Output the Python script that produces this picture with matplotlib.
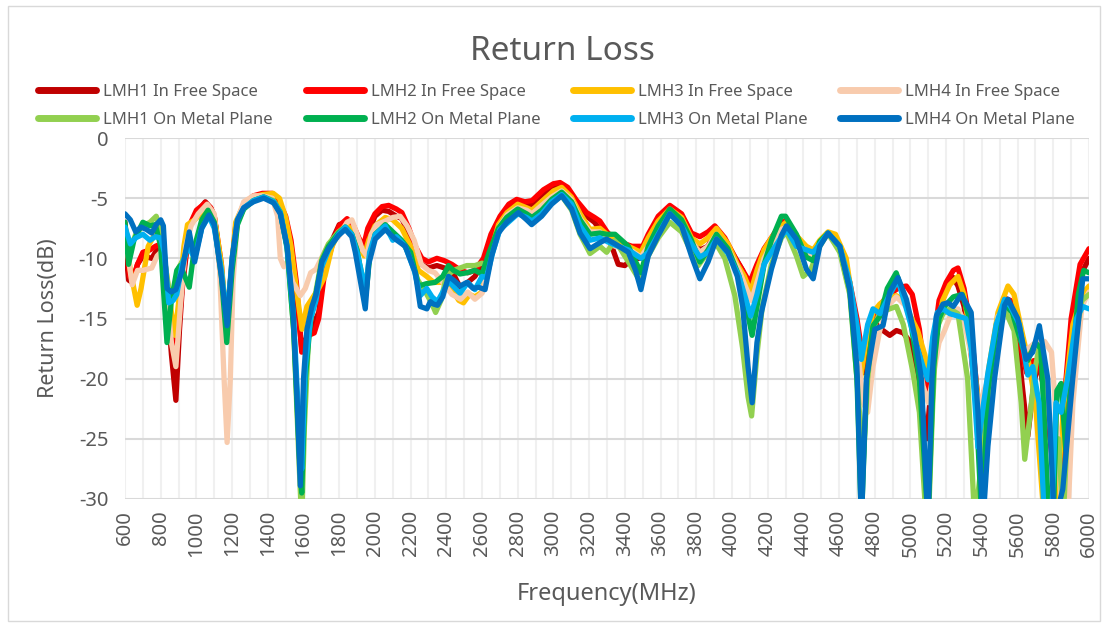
import matplotlib
matplotlib.use("Agg")
import matplotlib.pyplot as plt
from matplotlib.patches import Rectangle

plt.rcParams['font.family'] = ['Noto Sans', 'DejaVu Sans']
plt.rcParams['axes.unicode_minus'] = False

# ---------------- data (frequency MHz, return loss dB) ----------------
lmh1_free = [(600,-8.5),(620,-11.8),(640,-12.0),(670,-10.5),(700,-9.8),(750,-10.0),(770,-9.5),(800,-9.0),(830,-12),(860,-18),(885,-21.8),(905,-16),(921,-12.5),(960,-7.5),(1000,-6.2),(1050,-5.3),(1080,-5.8),(1100,-6.5),(1140,-11),(1165,-16),(1190,-12),(1220,-7.5),(1265,-5.5),(1320,-4.9),(1370,-4.7),(1425,-4.7),(1460,-5.3),(1500,-7.0),(1530,-9.5),(1560,-13),(1590,-17.5),(1610,-16.8),(1640,-16.0),(1685,-14.5),(1720,-10.5),(1760,-8.5),(1800,-7.2),(1844,-7.0),(1880,-7.8),(1910,-8.5),(1936,-9.2),(1960,-8),(2000,-6.5),(2040,-6.0),(2077,-6.1),(2120,-6.5),(2151,-6.7),(2190,-8.0),(2230,-9.8),(2263,-10.5),(2300,-10.8),(2347,-10.6),(2390,-10.8),(2430,-11.0),(2480,-12.5),(2520,-12.0),(2560,-11.5),(2600,-10.5),(2650,-8.5),(2701,-6.7),(2750,-5.6),(2794,-5.2),(2840,-5.6),(2880,-5.5),(2944,-4.6),(3000,-4.0),(3037,-3.9),(3080,-4.4),(3130,-5.6),(3186,-6.5),(3230,-7.0),(3270,-7.8),(3317,-8.6),(3363,-10.5),(3400,-10.6),(3440,-10.0),(3490,-10.0),(3531,-8.5),(3587,-7.0),(3652,-6.0),(3718,-6.6),(3773,-8.3),(3820,-9.3),(3866,-9.0),(3904,-7.8),(3960,-8.5),(4020,-10),(4060,-11),(4100,-12.5),(4140,-11),(4180,-9.5),(4221,-8.5),(4277,-7.5),(4305,-7.2),(4361,-8.6),(4417,-9.5),(4455,-9.8),(4492,-8.8),(4538,-7.9),(4604,-9.0),(4660,-12.5),(4700,-16),(4740,-19.5),(4775,-17),(4810,-15.5),(4846,-16.0),(4884,-16.4),(4921,-16.0),(4960,-16.2),(5000,-17),(5030,-19.4),(5060,-22),(5090,-25),(5120,-20),(5160,-14.5),(5200,-12.5),(5240,-11.6),(5266,-12.3),(5300,-14),(5340,-18),(5380,-24),(5410,-25.5),(5440,-21),(5480,-16),(5527,-13.5),(5560,-14),(5600,-17),(5657,-24.8),(5690,-20.5),(5720,-18.5),(5760,-22),(5800,-27),(5830,-30),(5860,-25),(5900,-17),(5950,-11.5),(6000,-10.0)]

lmh2_free = [(600,-7.0),(625,-11.5),(645,-11.8),(670,-10.5),(700,-9.5),(740,-9.3),(770,-9.0),(800,-8.8),(830,-11.5),(860,-16),(885,-18.8),(905,-15),(925,-11.5),(960,-7.3),(1000,-6.0),(1050,-5.4),(1080,-5.8),(1100,-6.5),(1140,-10.5),(1165,-15.5),(1190,-12),(1220,-7.3),(1265,-5.5),(1320,-4.8),(1370,-4.6),(1425,-4.6),(1460,-5.2),(1500,-6.5),(1530,-8.5),(1560,-12),(1590,-17.8),(1610,-17.0),(1629,-16.4),(1660,-16.2),(1685,-15),(1720,-11),(1759,-9.0),(1800,-7.3),(1844,-6.7),(1880,-7.3),(1910,-8.3),(1936,-9.0),(1960,-7.5),(2000,-6.3),(2040,-5.7),(2077,-5.6),(2120,-5.9),(2151,-6.2),(2190,-7.5),(2226,-9.0),(2263,-10.0),(2300,-10.3),(2347,-10.0),(2390,-10.2),(2431,-10.5),(2480,-11.0),(2520,-11.2),(2560,-11.0),(2608,-10.0),(2650,-8.0),(2701,-6.5),(2750,-5.5),(2794,-5.1),(2840,-5.3),(2880,-5.2),(2944,-4.3),(3000,-3.8),(3037,-3.7),(3080,-4.1),(3130,-5.2),(3186,-6.2),(3230,-6.6),(3260,-6.9),(3300,-7.8),(3345,-8.5),(3400,-8.8),(3440,-9.0),(3500,-9.0),(3531,-8.0),(3587,-6.5),(3652,-5.6),(3718,-6.3),(3773,-7.9),(3820,-8.2),(3866,-7.8),(3904,-7.3),(3960,-8.3),(4020,-10),(4060,-11),(4100,-12.0),(4140,-10.5),(4180,-9.2),(4221,-8.3),(4277,-7.0),(4305,-6.9),(4361,-8.3),(4417,-9.3),(4455,-9.5),(4492,-8.7),(4538,-7.9),(4604,-9.0),(4660,-12),(4700,-15),(4740,-19),(4775,-16.5),(4810,-14.5),(4850,-13.5),(4900,-12.8),(4940,-12.4),(4977,-12.3),(5010,-13),(5050,-15.9),(5090,-21),(5120,-18),(5160,-13.5),(5200,-12),(5240,-11),(5266,-10.8),(5300,-12.5),(5340,-16),(5380,-22),(5410,-25),(5440,-21),(5480,-16),(5527,-13.3),(5560,-13.5),(5600,-16),(5650,-19.5),(5690,-18.5),(5720,-18.5),(5760,-22),(5800,-27.5),(5830,-29),(5860,-22),(5900,-15),(5950,-10.5),(6000,-9.2)]

lmh3_free = [(600,-7.8),(630,-11),(668,-13.9),(690,-12.5),(730,-9.0),(770,-7.9),(800,-8.2),(830,-11),(860,-14.5),(880,-16.4),(905,-13),(930,-9),(950,-7.2),(990,-6.8),(1030,-6.2),(1060,-5.8),(1100,-6.5),(1140,-10.5),(1170,-15.5),(1195,-11),(1220,-7.0),(1265,-5.5),(1320,-4.9),(1370,-4.7),(1430,-4.6),(1465,-5.0),(1500,-6.6),(1530,-9),(1560,-12.5),(1591,-15.9),(1619,-14.0),(1650,-13.3),(1685,-12.5),(1720,-11.5),(1760,-9),(1800,-7.8),(1840,-7.2),(1880,-7.8),(1910,-8.8),(1940,-9.8),(1965,-8.5),(2000,-7.3),(2058,-6.6),(2100,-6.8),(2150,-7.5),(2200,-9.0),(2244,-11.0),(2290,-11.5),(2330,-12.0),(2380,-12.0),(2431,-12.6),(2470,-13.5),(2496,-13.7),(2530,-13.0),(2560,-13.2),(2600,-12.8),(2640,-10),(2692,-7.2),(2740,-6.2),(2800,-5.5),(2850,-5.8),(2880,-6.0),(2940,-5.2),(3000,-4.4),(3046,-4.1),(3100,-4.9),(3150,-6.3),(3205,-7.6),(3260,-7.5),(3300,-8.0),(3345,-8.3),(3420,-9.0),(3490,-9.5),(3531,-8.3),(3587,-6.9),(3652,-5.9),(3718,-6.6),(3773,-8.3),(3820,-8.8),(3866,-8.3),(3913,-7.5),(3978,-8.8),(4030,-10.5),(4070,-11.5),(4105,-12.8),(4140,-11),(4180,-9.3),(4221,-8.3),(4277,-7.3),(4305,-7.0),(4361,-8.1),(4417,-9.0),(4455,-9.3),(4492,-8.5),(4538,-7.8),(4580,-8.0),(4640,-10),(4680,-14),(4720,-20),(4750,-17),(4790,-14.5),(4828,-13.8),(4870,-13.3),(4921,-13.1),(4960,-13.5),(5000,-14.8),(5040,-16),(5080,-18),(5108,-20),(5140,-16.5),(5180,-13.5),(5220,-12.2),(5266,-11.5),(5300,-13),(5340,-17),(5378,-21.5),(5410,-22.5),(5440,-19),(5490,-14.5),(5546,-12.3),(5580,-13),(5620,-15.8),(5660,-18.5),(5700,-22),(5740,-30),(5760,-32),(5800,-32),(5830,-28),(5860,-22),(5910,-15.5),(5960,-13),(6000,-12.3)]

lmh4_free = [(600,-8.0),(640,-12.2),(670,-11.0),(700,-11.0),(750,-10.8),(780,-9.8),(800,-9.5),(830,-12),(860,-17),(885,-19.0),(910,-14),(940,-9),(970,-7.3),(1010,-6.3),(1060,-5.5),(1100,-6.3),(1130,-11),(1155,-20),(1172,-25.3),(1190,-20),(1205,-12),(1230,-6.8),(1265,-5.3),(1320,-4.8),(1370,-4.8),(1425,-5.0),(1455,-6.5),(1470,-10.0),(1490,-10.7),(1510,-10.3),(1540,-12),(1582,-13.1),(1610,-12.5),(1640,-11.2),(1670,-10.9),(1700,-10.0),(1740,-8.8),(1796,-8.2),(1844,-7.0),(1871,-6.8),(1900,-8.0),(1930,-9.3),(1955,-9.8),(1980,-8),(2010,-7.2),(2058,-6.9),(2100,-6.6),(2141,-6.5),(2180,-7.3),(2220,-8.5),(2260,-10.5),(2300,-11.0),(2337,-11.2),(2380,-12),(2431,-13.0),(2480,-13.4),(2520,-12.8),(2560,-13.4),(2600,-12.9),(2640,-10.3),(2700,-7.3),(2740,-6.4),(2800,-5.8),(2850,-6.0),(2880,-6.3),(2934,-5.6),(2990,-4.9),(3046,-4.4),(3100,-5.1),(3150,-6.7),(3205,-7.8),(3260,-7.8),(3300,-8.5),(3345,-9.0),(3420,-9.2),(3490,-9.9),(3531,-9.0),(3587,-7.5),(3652,-6.2),(3718,-6.9),(3773,-8.6),(3820,-9.5),(3866,-9.0),(3913,-8.0),(3978,-9.2),(4040,-11),(4080,-12.5),(4110,-13.5),(4140,-12),(4180,-10),(4221,-8.8),(4277,-7.6),(4305,-7.4),(4361,-8.4),(4417,-9.5),(4455,-9.8),(4492,-8.8),(4538,-8.0),(4604,-9.3),(4660,-12.8),(4700,-17),(4735,-22),(4760,-22.8),(4790,-19),(4828,-16),(4870,-14),(4921,-13.2),(4977,-14),(5030,-17),(5070,-20.6),(5100,-22),(5130,-19.5),(5160,-17),(5191,-16.0),(5230,-14.5),(5266,-14.2),(5300,-15.2),(5340,-18),(5390,-23),(5410,-21),(5440,-20),(5490,-14.8),(5546,-14.2),(5600,-16),(5640,-17.7),(5700,-17),(5751,-16.9),(5790,-17.8),(5830,-26),(5850,-32),(5880,-32),(5910,-22),(5960,-14),(6000,-12.8)]

lmh1_metal = [(600,-7.5),(630,-9.2),(660,-8.0),(700,-7.3),(740,-7.0),(775,-6.5),(800,-7.8),(825,-10.5),(850,-13.0),(875,-13.2),(900,-10.8),(930,-10.0),(960,-8.5),(990,-9.3),(1030,-7.0),(1065,-6.2),(1100,-7.0),(1140,-11),(1170,-15.5),(1200,-10.5),(1230,-7.0),(1265,-5.9),(1320,-5.2),(1377,-4.9),(1433,-5.2),(1470,-6.1),(1508,-9.0),(1545,-16),(1575,-27),(1590,-32),(1605,-24),(1630,-16),(1660,-13.5),(1703,-10.0),(1740,-8.8),(1796,-7.8),(1834,-7.4),(1870,-8.0),(1900,-9.5),(1930,-11.5),(1950,-12.3),(1970,-9.8),(2002,-8.0),(2058,-7.3),(2100,-7.9),(2150,-8.6),(2200,-9.8),(2240,-11.8),(2280,-12.7),(2320,-13.8),(2340,-14.5),(2370,-13.5),(2400,-11.5),(2440,-11),(2477,-10.8),(2515,-10.6),(2560,-10.6),(2600,-10.4),(2625,-10.6),(2660,-9.0),(2700,-7.5),(2740,-6.8),(2800,-6.2),(2850,-6.6),(2880,-6.9),(2934,-6.3),(2990,-5.4),(3046,-4.8),(3102,-6.0),(3149,-8.0),(3205,-9.6),(3260,-9.0),(3298,-9.5),(3345,-8.5),(3420,-10.3),(3490,-12.0),(3531,-9.8),(3587,-8.3),(3652,-7.0),(3718,-7.8),(3773,-9.5),(3811,-10.6),(3866,-9.5),(3904,-8.6),(3960,-10),(4016,-13.1),(4060,-17.5),(4090,-21.5),(4110,-23.1),(4140,-18),(4170,-14),(4221,-10.5),(4277,-8.3),(4305,-7.8),(4361,-9.8),(4399,-11.5),(4440,-11.0),(4492,-9.0),(4538,-7.9),(4604,-9.5),(4660,-13),(4700,-20),(4735,-27),(4760,-20),(4790,-15.9),(4828,-14.5),(4884,-14.2),(4921,-14.0),(4960,-15.5),(5014,-19.5),(5050,-22.8),(5080,-30),(5100,-32),(5125,-22),(5145,-15.9),(5182,-14.6),(5220,-14.2),(5266,-14.6),(5320,-20),(5360,-32),(5390,-28),(5420,-24),(5450,-20),(5500,-15),(5527,-14.2),(5580,-16),(5620,-22),(5640,-26.7),(5670,-23),(5700,-19),(5722,-17.3),(5750,-20),(5790,-25),(5830,-25),(5855,-32),(5880,-24),(5920,-17),(5960,-13.5),(6000,-13.0)]

lmh2_metal = [(600,-7.0),(620,-10.5),(650,-8.5),(700,-7.0),(740,-7.3),(770,-7.2),(800,-9.0),(815,-12.5),(835,-17.0),(860,-13.5),(890,-11.0),(910,-10.6),(935,-11.5),(960,-12.4),(990,-9.0),(1030,-6.8),(1065,-6.0),(1100,-7.0),(1140,-11.5),(1170,-17.0),(1200,-11),(1230,-7.2),(1265,-5.9),(1320,-5.2),(1377,-4.9),(1433,-5.3),(1470,-6.2),(1508,-9.2),(1545,-16),(1575,-26),(1590,-29.5),(1610,-20),(1640,-15),(1670,-13),(1703,-10.2),(1740,-9.0),(1796,-7.9),(1834,-7.4),(1870,-8.0),(1900,-9.3),(1930,-12),(1950,-13.0),(1970,-10),(2002,-8.0),(2058,-7.2),(2100,-7.8),(2150,-8.5),(2200,-9.5),(2244,-12.3),(2290,-12.1),(2337,-12.0),(2380,-11.5),(2412,-10.6),(2440,-11.0),(2477,-11.3),(2515,-11.2),(2560,-11.0),(2600,-11.3),(2640,-9.5),(2692,-7.5),(2738,-6.6),(2800,-5.9),(2850,-6.3),(2880,-6.6),(2934,-6.0),(2990,-5.1),(3046,-4.5),(3102,-5.3),(3149,-6.8),(3205,-8.0),(3260,-7.9),(3298,-8.0),(3345,-8.0),(3420,-9.0),(3490,-11.2),(3531,-9.0),(3587,-7.3),(3652,-5.9),(3718,-6.8),(3773,-8.5),(3820,-10.3),(3866,-9.3),(3913,-8.0),(3978,-9.2),(4040,-11.5),(4080,-14),(4113,-16.4),(4140,-14),(4180,-10.5),(4221,-8.5),(4277,-6.5),(4300,-6.5),(4361,-8.0),(4417,-9.9),(4455,-10.2),(4492,-8.6),(4538,-7.9),(4604,-9.0),(4660,-12.6),(4700,-20),(4725,-32),(4755,-20),(4790,-15.6),(4830,-14.8),(4870,-12.5),(4920,-11.2),(4960,-13),(5000,-15.2),(5050,-20),(5098,-32),(5130,-19),(5160,-15),(5190,-14),(5240,-13.2),(5290,-13.0),(5330,-15),(5360,-20),(5400,-32),(5434,-21),(5480,-16),(5527,-13.8),(5570,-14.5),(5630,-17.5),(5657,-18.5),(5700,-17),(5730,-17.5),(5770,-30),(5800,-32),(5820,-21),(5844,-20.4),(5870,-26),(5900,-20),(5940,-13),(5970,-11),(6000,-11.2)]

lmh3_metal = [(600,-7.4),(630,-8.8),(660,-8.3),(700,-8.0),(740,-8.5),(770,-8.2),(800,-8.3),(820,-9.5),(845,-13.7),(870,-13.5),(890,-13.0),(920,-10.5),(955,-9.0),(990,-10.0),(1030,-7.5),(1070,-6.5),(1100,-7.5),(1140,-11),(1170,-15.2),(1200,-10),(1230,-6.8),(1265,-5.8),(1320,-5.2),(1377,-4.9),(1433,-5.3),(1470,-6.2),(1508,-9.0),(1545,-15),(1575,-24),(1590,-27.5),(1610,-19),(1640,-15),(1670,-13.5),(1700,-10.8),(1740,-9.3),(1796,-8.0),(1834,-7.4),(1870,-8.0),(1900,-9.5),(1930,-11.5),(1950,-12.5),(1970,-9.5),(2002,-8.0),(2058,-7.3),(2100,-8.5),(2120,-8.2),(2170,-9.0),(2220,-11.0),(2254,-13.1),(2290,-12.5),(2320,-13.2),(2350,-13.6),(2380,-12.8),(2412,-11.9),(2450,-12.5),(2477,-12.9),(2520,-12.0),(2560,-12.6),(2600,-11.5),(2625,-11.6),(2660,-9.5),(2700,-7.6),(2740,-7.1),(2800,-6.3),(2850,-6.6),(2880,-6.9),(2934,-6.3),(2990,-5.3),(3046,-4.7),(3102,-5.5),(3149,-7.3),(3205,-8.5),(3260,-8.3),(3300,-8.6),(3345,-8.9),(3420,-9.3),(3490,-10.0),(3531,-9.5),(3587,-8.0),(3652,-6.3),(3718,-7.3),(3773,-8.8),(3820,-9.9),(3866,-9.5),(3913,-8.4),(3978,-9.6),(4040,-11.5),(4080,-13.5),(4105,-14.8),(4140,-13),(4180,-10.5),(4221,-9.5),(4277,-8.2),(4305,-7.6),(4361,-9.0),(4417,-9.3),(4455,-9.5),(4492,-8.8),(4538,-7.9),(4604,-9.0),(4660,-12),(4700,-15.5),(4725,-18.4),(4760,-15.5),(4790,-14.2),(4830,-14.6),(4884,-13),(4930,-11.8),(4977,-14.2),(5024,-16.7),(5070,-19),(5098,-20.1),(5125,-16.5),(5150,-14.5),(5182,-14.2),(5220,-14.6),(5266,-14.8),(5310,-15),(5340,-17.5),(5378,-25.7),(5410,-22),(5434,-19.5),(5480,-15.5),(5527,-13.4),(5560,-14),(5610,-15.5),(5657,-19.7),(5685,-19),(5720,-22),(5751,-32),(5790,-32),(5815,-22),(5844,-22.8),(5880,-20),(5930,-15),(5965,-14.0),(6000,-14.2)]

lmh4_metal = [(600,-6.3),(630,-6.8),(660,-7.8),(690,-7.4),(720,-7.6),(750,-7.9),(775,-7.2),(800,-6.8),(815,-7.3),(835,-12.5),(860,-12.8),(885,-12.6),(920,-11.0),(960,-7.8),(990,-10.3),(1030,-7.5),(1070,-6.4),(1100,-7.2),(1140,-11.5),(1172,-15.6),(1200,-10),(1230,-6.8),(1265,-5.8),(1320,-5.3),(1377,-5.0),(1433,-5.4),(1470,-6.3),(1508,-9.0),(1540,-14),(1565,-22),(1582,-28.9),(1600,-20),(1619,-15.9),(1647,-14),(1670,-13),(1703,-10.3),(1740,-9.2),(1796,-8.1),(1834,-7.6),(1870,-8.2),(1890,-9.5),(1920,-12),(1946,-14.2),(1965,-10.5),(2002,-8.4),(2058,-7.6),(2114,-8.4),(2170,-9.0),(2226,-11.2),(2254,-14),(2291,-14.2),(2310,-13.6),(2328,-13.8),(2350,-13.9),(2380,-13.2),(2412,-11.5),(2440,-11.8),(2477,-12.3),(2515,-12.0),(2550,-12.5),(2580,-12.4),(2617,-12.6),(2654,-9.8),(2692,-7.9),(2738,-7.0),(2804,-6.2),(2850,-6.8),(2878,-7.2),(2934,-6.5),(2990,-5.5),(3046,-4.8),(3102,-5.9),(3149,-7.9),(3205,-9.2),(3260,-8.7),(3298,-8.4),(3345,-8.8),(3420,-9.5),(3460,-11),(3490,-12.6),(3531,-9.8),(3587,-8.1),(3652,-6.3),(3718,-7.3),(3773,-9.8),(3820,-11.7),(3866,-10.3),(3913,-8.4),(3978,-9.5),(4030,-11.5),(4060,-14),(4090,-19),(4113,-22),(4140,-17),(4165,-14.5),(4221,-10.9),(4277,-8.1),(4305,-7.3),(4361,-8.4),(4417,-10.9),(4455,-11.7),(4492,-9.0),(4538,-7.9),(4604,-9.0),(4660,-12.6),(4700,-19),(4725,-32),(4753,-20),(4800,-15.9),(4846,-15.6),(4884,-12.8),(4930,-11.6),(4977,-13.4),(5024,-16.4),(5061,-20),(5098,-32),(5120,-20),(5145,-14.8),(5182,-13.8),(5210,-13.7),(5240,-14),(5285,-13.0),(5340,-14.5),(5378,-22.8),(5406,-32),(5434,-25.6),(5471,-20),(5527,-13.9),(5546,-13.4),(5601,-15),(5648,-18.4),(5685,-17.8),(5722,-15.6),(5769,-20),(5806,-32),(5853,-29.2),(5909,-20),(5965,-11.7),(6000,-11.7)]

series_names = ["LMH1 In Free Space", "LMH2 In Free Space", "LMH3 In Free Space", "LMH4 In Free Space",
                "LMH1 On Metal Plane", "LMH2 On Metal Plane", "LMH3 On Metal Plane", "LMH4 On Metal Plane"]
series_data = [lmh1_free, lmh2_free, lmh3_free, lmh4_free, lmh1_metal, lmh2_metal, lmh3_metal, lmh4_metal]
series_colors = ["#C00000", "#FF0000", "#FFC000", "#F8CBAD", "#92D050", "#00B050", "#00B0F0", "#0070C0"]

x_ticks = list(range(600, 6001, 200))
y_ticks = [0, -5, -10, -15, -20, -25, -30]

# ---------------- figure ----------------
W, H, DPI = 1110, 626, 100
fig = plt.figure(figsize=(W / DPI, H / DPI), dpi=DPI)
fig.patches.append(Rectangle((8 / W, 5 / H), (1100 - 8) / W, (620 - 5) / H, transform=fig.transFigure,
                             fill=False, edgecolor="#D9D9D9", linewidth=1.0))

ax = fig.add_axes([125 / W, 1 - 499 / H, (1089 - 125) / W, (499 - 138) / H])
txt = "#595959"

handles = []
for name, data, col in zip(series_names, series_data, series_colors):
    xs = [p[0] for p in data]
    ys = [p[1] for p in data]
    h, = ax.plot(xs, ys, color=col, lw=3.8, solid_joinstyle="round", solid_capstyle="round", label=name, zorder=3)
    handles.append(h)

ax.set_xlim(600, 6000)
ax.set_ylim(-30, 0)
ax.set_yticks(y_ticks)
ax.set_yticklabels([str(v) for v in y_ticks])
ax.set_xticks(x_ticks)
ax.set_xticklabels([str(v) for v in x_ticks], rotation=90)

for v in range(600, 6001, 100):
    ax.axvline(v, color="#F0F0F0", lw=1.5, zorder=1)
for v in y_ticks:
    ax.axhline(v, color="#D9D9D9", lw=1.5, zorder=2)

for s in ax.spines.values():
    s.set_visible(False)
ax.tick_params(axis="both", which="both", length=0, colors=txt, labelsize=14.5)
ax.tick_params(axis="x", pad=8)
ax.tick_params(axis="y", pad=12)

ax.set_xlabel("Frequency(MHz)", fontsize=17, color=txt, labelpad=18)
ax.set_ylabel("Return Loss(dB)", fontsize=15.5, color=txt, labelpad=14)

fig.text(562 / W, 1 - 51 / H, "Return Loss", ha="center", va="center", fontsize=24, color=txt)

# legend: four columns, each holding the free-space entry above the metal-plane entry
col_x = [38, 306, 573, 840]
for j in range(4):
    leg = fig.legend([handles[j], handles[j + 4]], [series_names[j], series_names[j + 4]],
                     loc="upper left", bbox_to_anchor=(col_x[j] / W, 1 - 84 / H),
                     frameon=False, fontsize=12, handlelength=3.5, handletextpad=0.4,
                     labelspacing=0.72, borderaxespad=0, borderpad=0)
    for t in leg.get_texts():
        t.set_color(txt)
    for lh in leg.get_lines():
        lh.set_linewidth(5)

fig.savefig("out.png", dpi=DPI)
